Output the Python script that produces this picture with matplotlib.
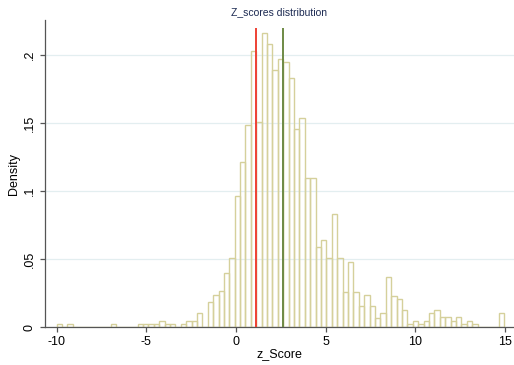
import numpy as np
import matplotlib
matplotlib.use("Agg")
import matplotlib.pyplot as plt

plt.rcParams['font.family'] = ['Liberation Sans', 'DejaVu Sans']

# Histogram data (density per bin), 83 bins of equal width
bin_start = -10.0
bin_end = 14.97
densities = [
    0.0022, 0, 0.0022, 0, 0, 0, 0, 0, 0, 0,          # bins 0-9
    0.0022, 0, 0, 0, 0, 0.0022, 0.0022, 0.0022, 0.0022, 0.0046,  # 10-19
    0.0022, 0.0022, 0, 0.0022, 0.0046, 0.0046, 0.0103, 0, 0.0184, 0.0237,  # 20-29
    0.0267, 0.0402, 0.0507, 0.0968, 0.1213, 0.1485, 0.2027, 0.151, 0.216, 0.208,  # 30-39
    0.189, 0.197, 0.195, 0.1835, 0.1456, 0.154, 0.110, 0.110, 0.0588, 0.0644,  # 40-49
    0.0507, 0.0833, 0.0507, 0.0262, 0.0478, 0.0262, 0.0154, 0.0235, 0.0154, 0.0071,  # 50-59
    0.0103, 0.0372, 0.0230, 0.0208, 0.0127, 0.0022, 0.0046, 0.0022, 0.0046, 0.0103,  # 60-69
    0.0127, 0.0074, 0.0074, 0.0046, 0.0074, 0.0022, 0.0046, 0.0022, 0, 0,  # 70-79
    0, 0, 0.0103,  # 80-82
]
# reference lines (x positions) and their height
line_red_x = 1.10
line_green_x = 2.62
line_top = 0.22

xticks = [-10, -5, 0, 5, 10, 15]
yticks = [0, 0.05, 0.1, 0.15, 0.2]
ytick_labels = ['0', '.05', '.1', '.15', '.2']

edges = np.linspace(bin_start, bin_end, len(densities) + 1)
widths = np.diff(edges)

fig = plt.figure(figsize=(5.14, 3.65), dpi=100)
ax = fig.add_axes([0.0875, 0.1033, 0.9125, 0.8419])

ax.bar(edges[:-1], densities, width=widths, align='edge', fill=False,
       edgecolor='#d5d09b', linewidth=1.0, zorder=2)

ax.vlines(line_red_x, 0, line_top, color='#ee4134', linewidth=1.4, zorder=3)
ax.vlines(line_green_x, 0, line_top, color='#6e8a45', linewidth=1.4, zorder=3)

ax.set_xlim(-10.65, 15.50)
ax.set_ylim(0, 0.2258)

ax.set_xticks(xticks)
ax.set_xticklabels([str(t) for t in xticks])
ax.set_yticks(yticks)
ax.set_yticklabels(ytick_labels, rotation=90, va='center')

ax.grid(axis='y', color='#e3eef0', linewidth=0.9, zorder=0)
ax.set_axisbelow(True)
for s in ['top', 'right']:
    ax.spines[s].set_visible(False)
for s in ['left', 'bottom']:
    ax.spines[s].set_color('#555555')
    ax.spines[s].set_linewidth(0.9)

ax.tick_params(axis='both', direction='out', length=3.5, width=0.9,
               color='#555555', labelsize=9, labelcolor='#000000')
ax.tick_params(axis='x', pad=3)
ax.tick_params(axis='y', pad=3)

ax.set_xlabel('z_Score', fontsize=9, labelpad=0)
ax.set_ylabel('Density', fontsize=9, labelpad=3)
fig.text(0.5437, 0.968, 'Z_scores distribution', ha='center', va='center',
         fontsize=7.5, color='#1c2a52')

fig.savefig('out.png', dpi=100)
